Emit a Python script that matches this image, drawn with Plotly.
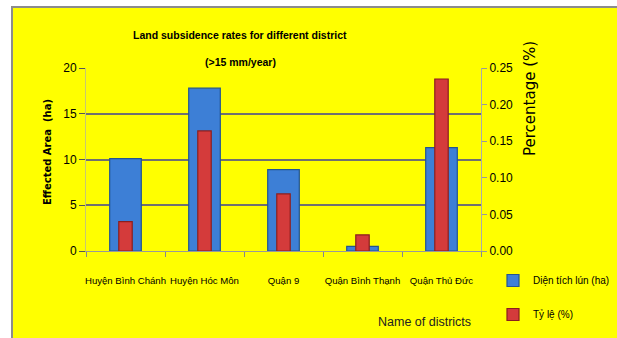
import plotly.graph_objects as go

districts = ["Huyện Bình Chánh", "Huyện Hóc Môn", "Quận 9", "Quận Bình Thạnh", "Quận Thủ Đức"]
area_ha = [10.1, 17.8, 8.9, 0.5, 11.3]
ratio_pct = [0.040, 0.164, 0.078, 0.022, 0.235]
left_ticks = [0, 5, 10, 15, 20]
right_ticks = [0, 0.05, 0.10, 0.15, 0.20, 0.25]

W, H = 617, 338
L, R, T, B = 86, 136, 68, 87
pw, ph = W - L - R, H - T - B

narrow = "Liberation Sans Narrow, Liberation Sans, Arial, sans-serif"
wide = "DejaVu Sans, Verdana, sans-serif"

fig = go.Figure()
fig.add_trace(go.Bar(
    x=districts, y=area_ha, name="Diện tích lún (ha)", width=0.4,
    marker=dict(color="#3d7fd6", line=dict(color="#24558f", width=1.2)),
    legendgroup="a", yaxis="y"))
fig.add_trace(go.Bar(
    x=districts, y=ratio_pct, name="Tỷ lệ (%)", width=0.17,
    marker=dict(color="#d43b3b", line=dict(color="#8a1f1f", width=1.2)),
    legendgroup="b", yaxis="y2"))

def px2x(p):
    return (p - L) / pw

def py2y(p):
    return (H - B - p) / ph

annots = [
    dict(text="Land subsidence rates for different district", x=px2x(240), y=py2y(35),
         font=dict(family=narrow, size=10.5, color="black", weight=600)),
    dict(text="(>15 mm/year)", x=px2x(240), y=py2y(62),
         font=dict(family=narrow, size=10.5, color="black", weight=600)),
    dict(text="<b>Effected Area  (ha)</b>", x=px2x(47), y=py2y(152), textangle=-90,
         font=dict(family=wide, size=10, color="black")),
    dict(text="Percentage (%)", x=px2x(530), y=py2y(99), textangle=-90,
         font=dict(family=wide, size=15, color="black")),
    dict(text="Name of districts", x=px2x(424), y=py2y(322),
         font=dict(family=narrow, size=12.5, color="#222")),
]
for a in annots:
    a.update(xref="paper", yref="paper", showarrow=False, xanchor="center", yanchor="middle")

fig.update_layout(
    width=W, height=H,
    margin=dict(l=L, r=R, t=T, b=B, autoexpand=False),
    paper_bgcolor="white",
    plot_bgcolor="white",
    barmode="overlay",
    font=dict(family=narrow, color="black", size=11),
    annotations=annots,
    xaxis=dict(showgrid=False, ticks="outside", tickson="boundaries", ticklen=5,
               tickcolor="#888", showline=True, linecolor="#999", linewidth=1,
               tickangle=0, automargin=False, ticklabelstandoff=20,
               tickfont=dict(family=narrow, size=9.6, color="black")),
    yaxis=dict(range=[0, 20], tickvals=left_ticks, showgrid=True, gridcolor="#707070",
               gridwidth=1.5, ticks="outside", ticklen=6, tickcolor="#555",
               showline=True, linecolor="#c8c870", linewidth=1, zeroline=False,
               automargin=False,
               tickfont=dict(family=narrow, size=12, color="black")),
    yaxis2=dict(range=[0, 0.25], tickvals=right_ticks, tickformat=".2f", overlaying="y",
                side="right", showgrid=False, ticks="outside", ticklen=5, tickcolor="#999",
                showline=True, linecolor="#aaa", linewidth=1, zeroline=False,
                automargin=False,
                tickfont=dict(family=narrow, size=12, color="black")),
    legend=dict(x=px2x(493), y=py2y(266), xanchor="left", yanchor="top",
                bgcolor="rgba(0,0,0,0)", traceorder="grouped", tracegroupgap=15,
                font=dict(family=narrow, size=10, color="black"),
                itemwidth=30),
    shapes=[dict(type="rect", xref="paper", yref="paper", layer="below",
                 x0=px2x(12), x1=px2x(W + 5), y0=py2y(H + 5), y1=py2y(7),
                 fillcolor="#ffff00", line=dict(color="#8c8c8c", width=2))],
)

fig.write_html("out.html")
